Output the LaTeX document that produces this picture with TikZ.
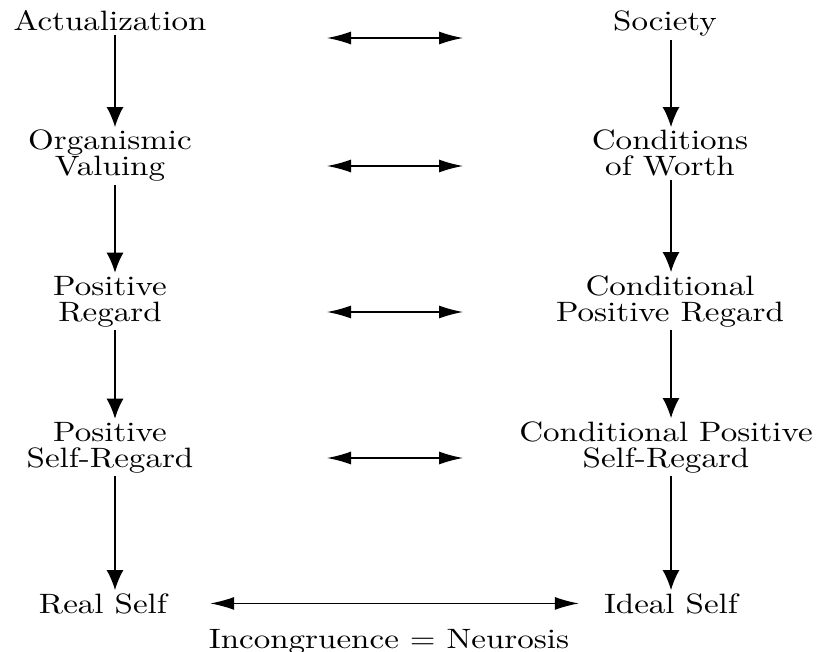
\documentclass[tikz,border=0pt]{standalone}
\usepackage{fontspec}
\setmainfont{lmroman10-regular.otf}[FakeStretch=1.18]
\usepackage{tikz}
\usetikzlibrary{arrows.meta, positioning, calc}

\begin{document}
\begin{tikzpicture}[x=1pt, y=-1pt,
    every node/.style={font=\fontsize{28}{26}\selectfont, align=center, inner sep=3pt, anchor=base},
    down/.style={line width=1.3pt, -{Latex[length=20pt,width=17pt]}},
    both/.style={line width=1.3pt, {Latex[length=24pt,width=13pt]}-{Latex[length=24pt,width=13pt]}}]
    \useasboundingbox (0,0) rectangle (816,652);
    \pgfmathsetmacro{\leftx}{110}
    \pgfmathsetmacro{\rightx}{670}
    \pgfmathsetmacro{\arrowl}{327}
    \pgfmathsetmacro{\arrowr}{463}

    \coordinate (lcol) at (115,0);
    \coordinate (rcol) at (671,0);

    \node (act) at (\leftx,31) {Actualization};
    \node (org) at (\leftx,176) {Organismic\\Valuing};
    \node (pos) at (\leftx,321) {Positive\\Regard};
    \node (self) at (\leftx,467) {Positive\\Self-Regard};
    \node (real) at (103,613) {Real Self};

    \node (soc) at (665,31) {Society};
    \node (worth) at (\rightx,176) {Conditions\\of Worth};
    \node (cond) at (\rightx,321) {Conditional\\Positive Regard};
    \node (cself) at (666,467) {Conditional Positive\\Self-Regard};
    \node (ideal) at (671,613) {Ideal Self};

    \node (neur) at (389,648) {Incongruence = Neurosis};

    \draw[down] (act.south -| lcol) -- (org.north -| lcol);
    \draw[down] (org.south -| lcol) -- (pos.north -| lcol);
    \draw[down] (pos.south -| lcol) -- (self.north -| lcol);
    \draw[down] (self.south -| lcol) -- (real.north -| lcol);

    \draw[down] (soc.south -| rcol) -- (worth.north -| rcol);
    \draw[down] (worth.south -| rcol) -- (cond.north -| rcol);
    \draw[down] (cond.south -| rcol) -- (cself.north -| rcol);
    \draw[down] (cself.south -| rcol) -- (ideal.north -| rcol);

    \coordinate (a1) at (\arrowl,38);  \coordinate (b1) at (\arrowr,38);
    \coordinate (a2) at (\arrowl,166); \coordinate (b2) at (\arrowr,166);
    \coordinate (a3) at (\arrowl,312); \coordinate (b3) at (\arrowr,312);
    \coordinate (a4) at (\arrowl,458); \coordinate (b4) at (\arrowr,458);
    \draw[both] (a1) -- (b1);
    \draw[both] (a2) -- (b2);
    \draw[both] (a3) -- (b3);
    \draw[both] (a4) -- (b4);

    \draw[both, shorten <=40pt, shorten >=22pt] (real.east) -- (ideal.west);
\end{tikzpicture}
\end{document}
